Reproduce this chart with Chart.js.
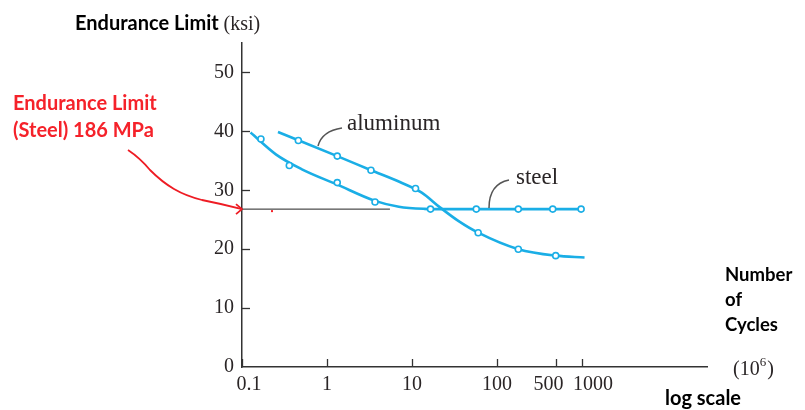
<!DOCTYPE html>
<html>
<head>
<meta charset="utf-8">
<script src="https://cdn.jsdelivr.net/npm/chart.js@4.4.1/dist/chart.umd.min.js"></script>
<style>
  html, body { margin: 0; padding: 0; background: #fff; }
  #wrap { width: 805px; height: 410px; position: relative; }
</style>
</head>
<body>
<div id="wrap"><canvas id="chart" width="805" height="410"></canvas></div>
<script>
// Cycles (millions) and endurance limit (ksi)
const steelCurveN   = [0.126, 0.25, 0.5, 1.3, 3.67, 7, 14, 25, 1000];
const steelCurveS   = [39.8, 36.1, 33.6, 31.0, 28.2, 27.2, 26.85, 26.8, 26.8];
const alumCurveN    = [0.265, 1.32, 3.3, 7.2, 13, 21.3, 35, 60, 178, 490, 1070];
const alumCurveS    = [39.9, 35.8, 33.4, 31.4, 29.6, 27.1, 24.8, 22.8, 20.0, 18.9, 18.6];
const steelMarkN    = [0.167, 0.36, 1.32, 3.67, 16.5, 57, 178, 452, 975];
const steelMarkS    = [38.7, 34.2, 31.3, 28.0, 26.8, 26.8, 26.8, 26.8, 26.8];
const alumMarkN     = [0.46, 1.32, 3.29, 11, 60, 178, 490];
const alumMarkS     = [38.45, 35.8, 33.4, 30.3, 22.8, 20.0, 18.9];
const limitN        = [0.1, 5.5];
const limitS        = [26.8, 26.8];

const xTickValues = [0.1, 1, 10, 100, 500, 1000];
const xTickLabels = ['0.1', '1', '10', '100', '500', '1000'];
const yTickValues = [0, 10, 20, 30, 40, 50];

const BLUE = '#1aaee6';
const INK = '#2a2526';
const SERIF = '"Liberation Serif", "DejaVu Serif", serif';
const SANS = 'Lato, "Open Sans", sans-serif';

const pts = (xs, ys) => xs.map((x, i) => ({ x: x, y: ys[i] }));

// ticks, labels and the hand-drawn notes
const decorations = {
  id: 'decorations',
  afterDraw(chart) {
    const ctx = chart.ctx;
    const xs = chart.scales.x, ys = chart.scales.y;
    const area = chart.chartArea;
    ctx.save();

    // inward tick marks
    ctx.strokeStyle = '#333';
    ctx.lineWidth = 1.3;
    xTickValues.forEach(v => {
      const px = Math.round(xs.getPixelForValue(v)) + 0.5;
      ctx.beginPath(); ctx.moveTo(px, area.bottom); ctx.lineTo(px, area.bottom - 8); ctx.stroke();
    });
    yTickValues.forEach(v => {
      if (v === 0) return;
      const py = Math.round(ys.getPixelForValue(v)) + 0.5;
      ctx.beginPath(); ctx.moveTo(area.left, py); ctx.lineTo(area.left + 8, py); ctx.stroke();
    });

    // tick labels
    ctx.fillStyle = INK;
    ctx.font = '20px ' + SERIF;
    ctx.textBaseline = 'middle';
    ctx.textAlign = 'right';
    yTickValues.forEach(v => ctx.fillText(String(v), area.left - 8, ys.getPixelForValue(v)));
    const nudge = { '0.1': 7, '500': -8, '1000': 11 };
    ctx.textAlign = 'center';
    xTickValues.forEach((v, i) => {
      const lbl = xTickLabels[i];
      ctx.fillText(lbl, xs.getPixelForValue(v) + (nudge[lbl] || 0), area.bottom + 18);
    });

    // series labels with leader lines
    ctx.strokeStyle = '#555';
    ctx.lineWidth = 1.5;
    ctx.beginPath();
    ctx.moveTo(318, 146); ctx.quadraticCurveTo(322, 131, 342, 128); ctx.stroke();
    ctx.beginPath();
    ctx.moveTo(489, 208); ctx.quadraticCurveTo(489, 184, 509, 180); ctx.stroke();
    ctx.fillStyle = INK;
    ctx.font = '23px ' + SERIF;
    ctx.textAlign = 'left';
    ctx.textBaseline = 'alphabetic';
    ctx.fillText('aluminum', 347, 130);
    ctx.fillText('steel', 516, 184);

    // axis titles
    ctx.font = 'bold 20px ' + SANS;
    ctx.fillStyle = '#000';
    ctx.fillText('Endurance Limit', 75, 30);
    let w = ctx.measureText('Endurance Limit ').width;
    ctx.font = '20px ' + SERIF;
    ctx.fillStyle = INK;
    ctx.fillText('(ksi)', 75 + w, 30);

    ctx.font = 'bold 18.5px ' + SANS;
    ctx.fillStyle = '#000';
    ctx.fillText('Number', 725, 281);
    ctx.fillText('of', 725, 306);
    ctx.fillText('Cycles', 725, 331);
    ctx.font = 'bold 20px ' + SANS;
    ctx.fillText('log scale', 665, 405);
    ctx.font = '20px ' + SERIF;
    ctx.fillStyle = INK;
    ctx.fillText('(10', 733, 375);
    w = ctx.measureText('(10').width;
    ctx.font = '13px ' + SERIF;
    ctx.fillText('6', 733 + w, 366);
    const w2 = ctx.measureText('6').width;
    ctx.font = '20px ' + SERIF;
    ctx.fillText(')', 733 + w + w2 + 1, 375);

    // red note and arrow
    ctx.fillStyle = '#f5222a';
    ctx.font = 'bold 20px ' + SANS;
    ctx.fillText('Endurance Limit', 13, 110);
    ctx.fillText('(Steel) 186 MPa', 13, 137);
    const tipX = xs.getPixelForValue(limitN[0]), tipY = ys.getPixelForValue(limitS[0]);
    ctx.strokeStyle = '#ee1c24';
    ctx.lineWidth = 1.8;
    ctx.lineJoin = 'round';
    ctx.beginPath();
    ctx.moveTo(128, 150);
    ctx.quadraticCurveTo(140, 158, 150, 170);
    ctx.quadraticCurveTo(162, 182, 174, 189);
    ctx.quadraticCurveTo(186, 196, 202, 200);
    ctx.quadraticCurveTo(222, 204, tipX, tipY);
    ctx.stroke();
    ctx.beginPath();
    ctx.moveTo(tipX - 6, tipY - 5); ctx.lineTo(tipX, tipY); ctx.lineTo(tipX - 6, tipY + 5);
    ctx.stroke();
    ctx.fillRect(271, tipY + 1, 2, 2);

    ctx.restore();
  }
};

new Chart(document.getElementById('chart'), {
  type: 'scatter',
  data: {
    datasets: [
      { label: 'steel points', data: pts(steelMarkN, steelMarkS), showLine: false, order: 0,
        pointRadius: 3, pointBackgroundColor: '#fff', pointBorderColor: BLUE, pointBorderWidth: 1.6 },
      { label: 'aluminum points', data: pts(alumMarkN, alumMarkS), showLine: false, order: 0,
        pointRadius: 3, pointBackgroundColor: '#fff', pointBorderColor: BLUE, pointBorderWidth: 1.6 },
      { label: 'steel', data: pts(steelCurveN, steelCurveS), showLine: true, order: 1,
        borderColor: BLUE, borderWidth: 2.6, pointRadius: 0, cubicInterpolationMode: 'monotone' },
      { label: 'aluminum', data: pts(alumCurveN, alumCurveS), showLine: true, order: 1,
        borderColor: BLUE, borderWidth: 2.6, pointRadius: 0, cubicInterpolationMode: 'monotone' },
      { label: 'endurance limit', data: pts(limitN, limitS), showLine: true, order: 2,
        borderColor: '#222', borderWidth: 1, pointRadius: 0 }
    ]
  },
  options: {
    responsive: false,
    animation: false,
    layout: { padding: { left: 242, right: 98, top: 43, bottom: 43 } },
    plugins: { legend: { display: false }, tooltip: { enabled: false } },
    scales: {
      x: {
        type: 'logarithmic', min: 0.1, max: 29500,
        ticks: { display: false },
        grid: { display: false, drawTicks: false },
        border: { display: true, color: '#333', width: 1.5 }
      },
      y: {
        type: 'linear', min: 0, max: 55,
        ticks: { display: false },
        grid: { display: false, drawTicks: false },
        border: { display: true, color: '#333', width: 1.5 }
      }
    }
  },
  plugins: [decorations]
});
</script>
</body>
</html>
